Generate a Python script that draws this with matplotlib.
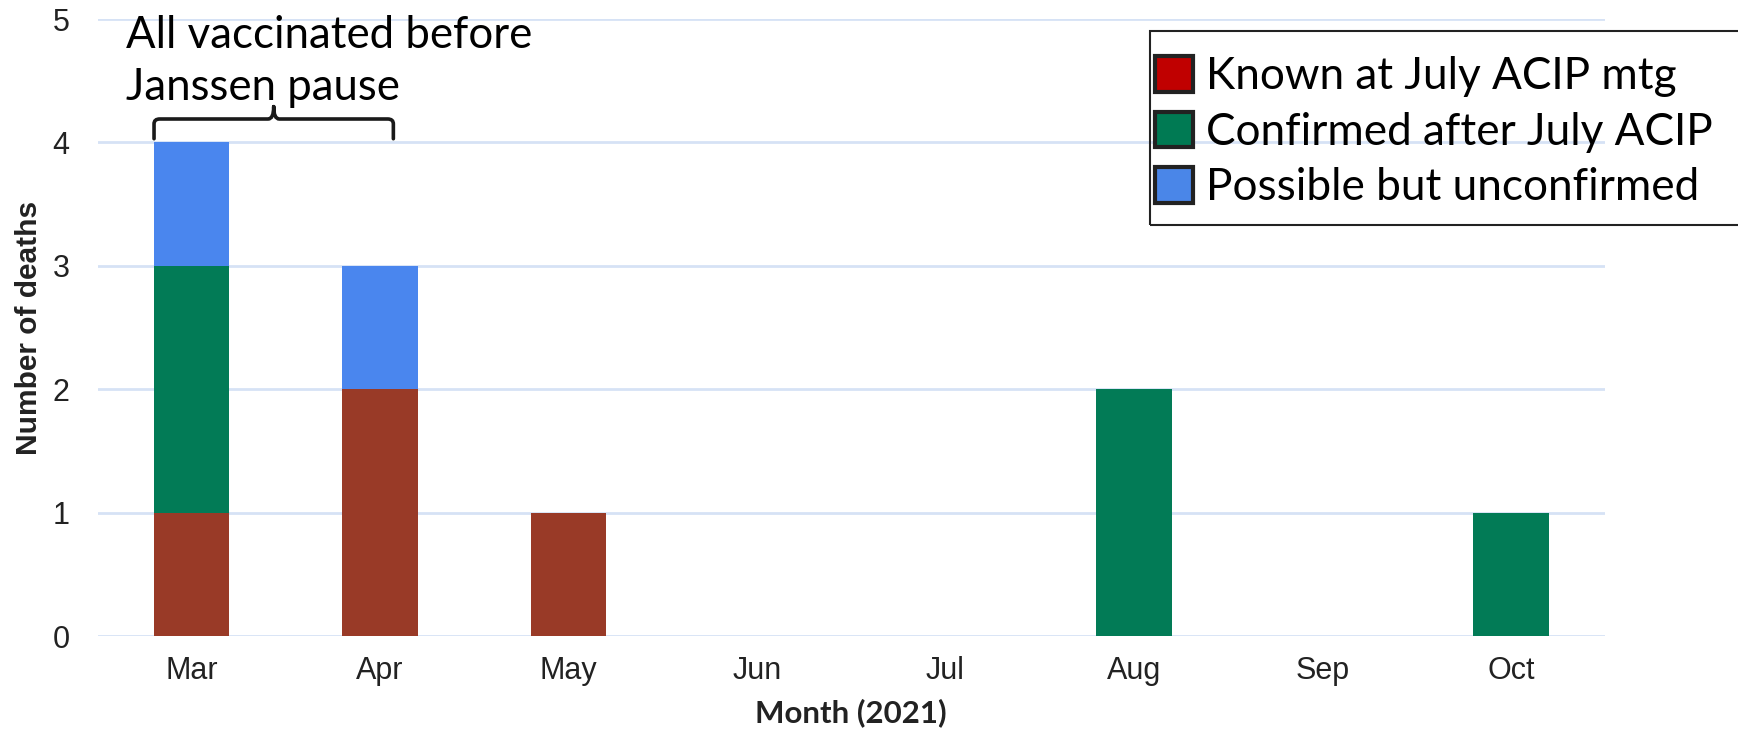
import matplotlib
matplotlib.use("Agg")
import matplotlib.pyplot as plt
from matplotlib.patches import Patch, Rectangle, PathPatch
from matplotlib.path import Path
import numpy as np

months = ["Mar", "Apr", "May", "Jun", "Jul", "Aug", "Sep", "Oct"]
known_july = [1, 2, 1, 0, 0, 0, 0, 0]
confirmed_after = [2, 0, 0, 0, 0, 2, 0, 1]
possible = [1, 1, 0, 0, 0, 0, 0, 0]
series_labels = ["Known at July ACIP mtg", "Confirmed after July ACIP", "Possible but unconfirmed"]
bar_colors = ["#993A27", "#027B56", "#4A86EE"]
legend_colors = ["#C00000", "#007A53", "#4A86E8"]
annotation = "All vaccinated before\nJanssen pause"

fig = plt.figure(figsize=(17.38, 7.32), dpi=100)
ax = fig.add_axes([0.0561, 0.131, 0.8674, 0.843])

x = np.arange(len(months))
w = 0.4
bottom = np.zeros(len(months))
for vals, c in zip([known_july, confirmed_after, possible], bar_colors):
    vals = np.array(vals, dtype=float)
    ax.bar(x, vals, width=w, bottom=bottom, color=c, zorder=3, linewidth=0)
    bottom += vals

ax.set_xlim(-0.5, len(months) - 0.5)
ax.set_ylim(0, 5)
ax.set_yticks(range(0, 6))
ax.set_xticks(x)
ax.set_xticklabels(months)
for s in ax.spines.values():
    s.set_visible(False)
ax.tick_params(axis="both", length=0, labelsize=22, labelcolor="#222222")
ax.tick_params(axis="y", pad=20)
ax.tick_params(axis="x", pad=14)
for lab in ax.get_xticklabels() + ax.get_yticklabels():
    lab.set_family("Liberation Sans")
ax.yaxis.grid(True, color="#D6E2F5", linewidth=2, zorder=0)
ax.set_axisbelow(True)

ax.set_xlabel("Month (2021)", fontsize=22.5, fontweight="bold", family="Lato", color="#222222")
ax.xaxis.set_label_coords(0.5, -0.1)
ax.set_ylabel("Number of deaths", fontsize=21.5, fontweight="bold", family="Liberation Sans", color="#222222")
ax.yaxis.set_label_coords(-0.036, 0.5)

# brace over Mar/Apr
xl = x[0] - w / 2
xr = 1.07
xm = (xl + xr) / 2
y0, y1, y2 = 4.03, 4.19, 4.29
r = 0.03
verts = [(xl, y0), (xl, y1 - 0.04), (xl, y1), (xl + r, y1),
         (xm - r, y1), (xm, y1), (xm, y2),
         (xm, y2), (xm, y1), (xm + r, y1),
         (xr - r, y1), (xr, y1), (xr, y1 - 0.04), (xr, y0)]
codes = [Path.MOVETO, Path.LINETO, Path.CURVE3, Path.CURVE3,
         Path.LINETO, Path.CURVE3, Path.CURVE3,
         Path.MOVETO, Path.CURVE3, Path.CURVE3,
         Path.LINETO, Path.CURVE3, Path.CURVE3, Path.LINETO]
ax.add_patch(PathPatch(Path(verts, codes), fill=False, edgecolor="#1a1a1a", linewidth=2.6,
                       clip_on=False, zorder=5, capstyle="round"))

ax.text(-0.35, 4.28, annotation, fontsize=31.5, family="Lato", color="black",
        ha="left", va="bottom", linespacing=1.32, zorder=6)

# legend
handles = [Patch(facecolor=c, edgecolor="#222222", linewidth=3) for c in legend_colors]
leg = fig.legend(handles, series_labels, loc="upper left", bbox_to_anchor=(1155 / 1738, 1 - 56 / 732),
                 frameon=False, prop={"family": "Lato", "size": 31.8},
                 handlelength=0.86, handleheight=0.86, handletextpad=0.3, labelspacing=0.33,
                 borderaxespad=0, borderpad=0)
fig.patches.append(Rectangle((1150 / 1738, 1 - 225 / 732), 0.5, 194 / 732, transform=fig.transFigure,
                             fill=False, edgecolor="#222222", linewidth=1.5, zorder=1))

fig.savefig("out.png", dpi=100)
